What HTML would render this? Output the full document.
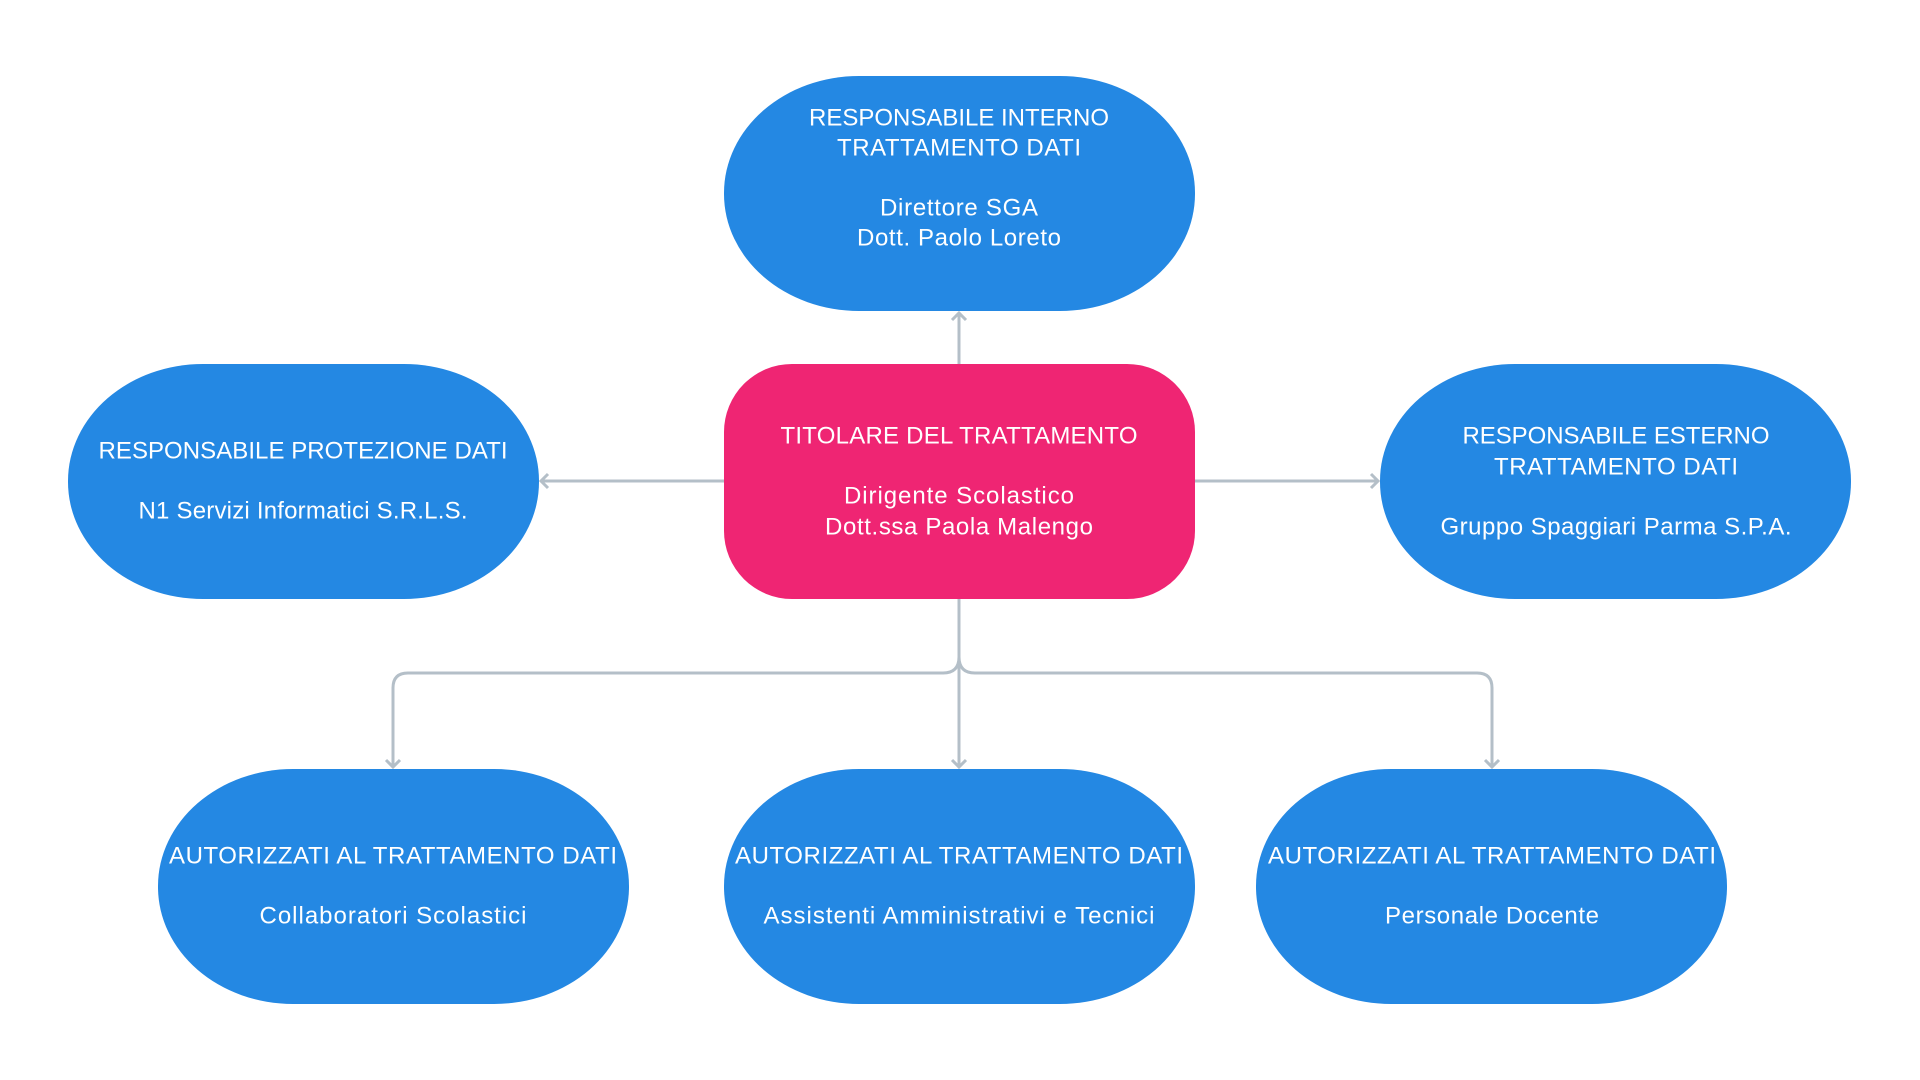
<!DOCTYPE html>
<html><head><meta charset="utf-8"><style>
html,body{margin:0;padding:0;background:#fff;width:1920px;height:1080px;overflow:hidden}
.n{position:absolute;width:471px;height:235px;background:#2488e3;border-radius:135px/117px}
svg{position:absolute;left:0;top:0}
text{font-family:"Liberation Sans",sans-serif;font-size:24px;fill:#fff;text-anchor:middle;dominant-baseline:central}
</style></head><body>
<div class="n" style="left:724px;top:76px"></div>
<div class="n" style="left:724px;top:364px;background:#ef2573;border-radius:68px"></div>
<div class="n" style="left:68px;top:364px"></div>
<div class="n" style="left:1380px;top:364px"></div>
<div class="n" style="left:158px;top:769px"></div>
<div class="n" style="left:724px;top:769px"></div>
<div class="n" style="left:1256px;top:769px"></div>
<svg width="1920" height="1080">
<g stroke="#b4bfc8" stroke-width="3" fill="none">
<path d="M959 364V313M952 320L959 313L966 320"/>
<path d="M724 481H541M548 474L541 481L548 488"/>
<path d="M1195 481H1378M1371 474L1378 481L1371 488"/>
<path d="M959 599V767M952 760L959 767L966 760"/>
<path d="M959 657Q959 673 943 673H408Q393 673 393 688V767M386 760L393 767L400 760"/>
<path d="M959 657Q959 673 975 673H1477Q1492 673 1492 688V767M1485 760L1492 767L1499 760"/>
</g>
<text x="959" y="118" textLength="300">RESPONSABILE INTERNO</text>
<text x="959" y="148" textLength="244">TRATTAMENTO DATI</text>
<text x="959" y="208" textLength="158">Direttore SGA</text>
<text x="959" y="238" textLength="204">Dott. Paolo Loreto</text>
<text x="959" y="436" textLength="357">TITOLARE DEL TRATTAMENTO</text>
<text x="959" y="496" textLength="230">Dirigente Scolastico</text>
<text x="959" y="527" textLength="268">Dott.ssa Paola Malengo</text>
<text x="303" y="451" textLength="409">RESPONSABILE PROTEZIONE DATI</text>
<text x="303" y="511" textLength="329">N1 Servizi Informatici S.R.L.S.</text>
<text x="1616" y="436" textLength="307">RESPONSABILE ESTERNO</text>
<text x="1616" y="467" textLength="244">TRATTAMENTO DATI</text>
<text x="1616" y="527" textLength="351">Gruppo Spaggiari Parma S.P.A.</text>
<text x="393" y="856" textLength="448">AUTORIZZATI AL TRATTAMENTO DATI</text>
<text x="393" y="916" textLength="267">Collaboratori Scolastici</text>
<text x="959" y="856" textLength="448">AUTORIZZATI AL TRATTAMENTO DATI</text>
<text x="959" y="916" textLength="391">Assistenti Amministrativi e Tecnici</text>
<text x="1492" y="856" textLength="448">AUTORIZZATI AL TRATTAMENTO DATI</text>
<text x="1492" y="916" textLength="214">Personale Docente</text>
</svg>
</body></html>
